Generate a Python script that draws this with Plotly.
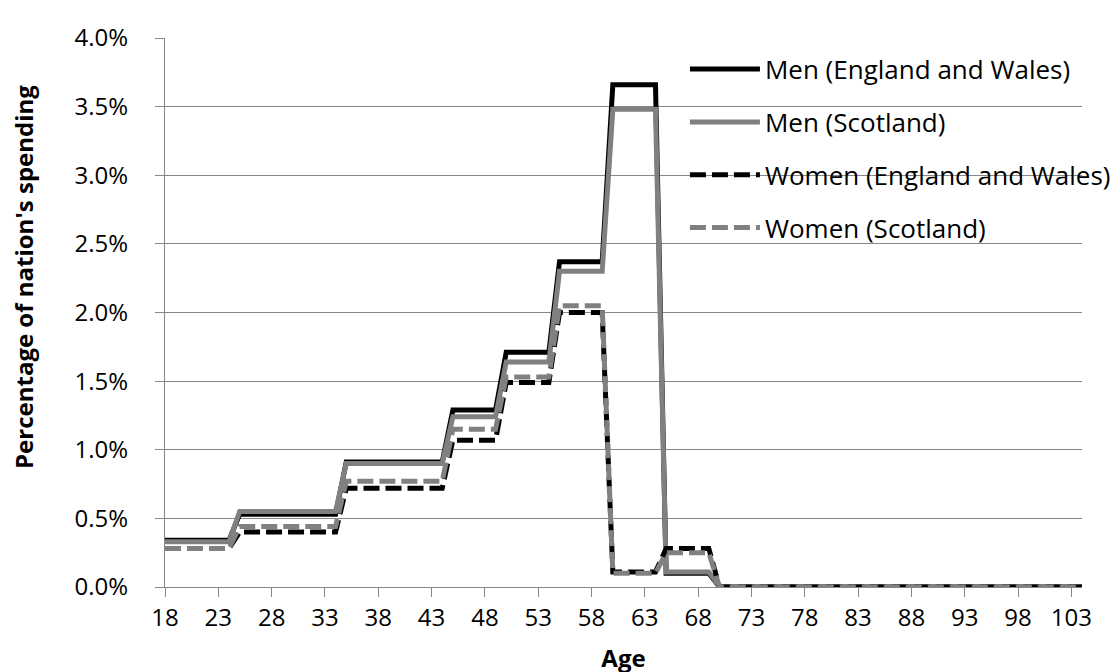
"""
Share of national spending by single year of age, men and women,
England and Wales vs Scotland (Excel-style step chart).
"""

import plotly.graph_objects as go

# Ages 18..104, one value per age (percent of nation's spending)
AGES = list(range(18, 105))

MEN_EW = [
    0.34, 0.34, 0.34, 0.34, 0.34, 0.34, 0.34,                    # 18-24
    0.53, 0.53, 0.53, 0.53, 0.53, 0.53, 0.53, 0.53, 0.53, 0.53,  # 25-34
    0.91, 0.91, 0.91, 0.91, 0.91, 0.91, 0.91, 0.91, 0.91, 0.91,  # 35-44
    1.29, 1.29, 1.29, 1.29, 1.29,                                # 45-49
    1.71, 1.71, 1.71, 1.71, 1.71,                                # 50-54
    2.37, 2.37, 2.37, 2.37, 2.37,                                # 55-59
    3.66, 3.66, 3.66, 3.66, 3.66,                                # 60-64
    0.10, 0.10, 0.10, 0.10, 0.10,                                # 65-69
    0, 0, 0, 0, 0, 0, 0, 0, 0, 0, 0, 0, 0, 0, 0, 0, 0,           # 70-86
    0, 0, 0, 0, 0, 0, 0, 0, 0, 0, 0, 0, 0, 0, 0, 0, 0, 0,        # 87-104
]

MEN_SCOT = [
    0.33, 0.33, 0.33, 0.33, 0.33, 0.33, 0.33,
    0.55, 0.55, 0.55, 0.55, 0.55, 0.55, 0.55, 0.55, 0.55, 0.55,
    0.90, 0.90, 0.90, 0.90, 0.90, 0.90, 0.90, 0.90, 0.90, 0.90,
    1.24, 1.24, 1.24, 1.24, 1.24,
    1.64, 1.64, 1.64, 1.64, 1.64,
    2.30, 2.30, 2.30, 2.30, 2.30,
    3.48, 3.48, 3.48, 3.48, 3.48,
    0.11, 0.11, 0.11, 0.11, 0.11,
    0, 0, 0, 0, 0, 0, 0, 0, 0, 0, 0, 0, 0, 0, 0, 0, 0,
    0, 0, 0, 0, 0, 0, 0, 0, 0, 0, 0, 0, 0, 0, 0, 0, 0, 0,
]

WOMEN_EW = [
    0.28, 0.28, 0.28, 0.28, 0.28, 0.28, 0.28,
    0.40, 0.40, 0.40, 0.40, 0.40, 0.40, 0.40, 0.40, 0.40, 0.40,
    0.72, 0.72, 0.72, 0.72, 0.72, 0.72, 0.72, 0.72, 0.72, 0.72,
    1.07, 1.07, 1.07, 1.07, 1.07,
    1.49, 1.49, 1.49, 1.49, 1.49,
    2.00, 2.00, 2.00, 2.00, 2.00,
    0.11, 0.11, 0.11, 0.11, 0.11,
    0.28, 0.28, 0.28, 0.28, 0.28,
    0, 0, 0, 0, 0, 0, 0, 0, 0, 0, 0, 0, 0, 0, 0, 0, 0,
    0, 0, 0, 0, 0, 0, 0, 0, 0, 0, 0, 0, 0, 0, 0, 0, 0, 0,
]

WOMEN_SCOT = [
    0.28, 0.28, 0.28, 0.28, 0.28, 0.28, 0.28,
    0.44, 0.44, 0.44, 0.44, 0.44, 0.44, 0.44, 0.44, 0.44, 0.44,
    0.77, 0.77, 0.77, 0.77, 0.77, 0.77, 0.77, 0.77, 0.77, 0.77,
    1.15, 1.15, 1.15, 1.15, 1.15,
    1.53, 1.53, 1.53, 1.53, 1.53,
    2.05, 2.05, 2.05, 2.05, 2.05,
    0.10, 0.10, 0.10, 0.10, 0.10,
    0.25, 0.25, 0.25, 0.25, 0.25,
    0, 0, 0, 0, 0, 0, 0, 0, 0, 0, 0, 0, 0, 0, 0, 0, 0,
    0, 0, 0, 0, 0, 0, 0, 0, 0, 0, 0, 0, 0, 0, 0, 0, 0, 0,
]

X_TICKS = list(range(18, 104, 5))
Y_TICKS = [0, 0.005, 0.01, 0.015, 0.02, 0.025, 0.03, 0.035, 0.04]

SERIES = [
    ('Men (England and Wales)', MEN_EW, '#000000', 'solid'),
    ('Men (Scotland)', MEN_SCOT, '#808080', 'solid'),
    ('Women (England and Wales)', WOMEN_EW, '#000000', '16px,6px'),
    ('Women (Scotland)', WOMEN_SCOT, '#808080', '16px,6px'),
]

FONT = 'Open Sans'
GRID = '#878787'

fig = go.Figure()

for i, (name, vals, color, dash) in enumerate(SERIES):
    fig.add_trace(go.Scatter(
        x=AGES,
        y=[v / 100 for v in vals],
        mode='lines',
        name=name,
        legendgroup=f'g{i}',
        line=dict(color=color, width=5, dash=dash),
    ))

# y-axis title as a rotated annotation (sits a bit above the plot centre)
fig.add_annotation(
    text="<b>Percentage of nation's spending</b>",
    xref='paper', yref='paper',
    x=-0.1536, y=0.565,
    xanchor='center', yanchor='middle',
    textangle=-90,
    showarrow=False,
    font=dict(size=24, color='black'),
)

fig.update_layout(
    width=1120,
    height=672,
    paper_bgcolor='white',
    plot_bgcolor='white',
    font=dict(family=FONT, size=24, color='black'),
    margin=dict(l=157, r=39, t=23, b=93),
    xaxis=dict(
        range=[18, 104],
        tickvals=X_TICKS,
        showgrid=False,
        zeroline=False,
        showline=True,
        linecolor=GRID,
        linewidth=1,
        ticks='outside',
        ticklen=9,
        tickcolor=GRID,
        tickfont=dict(size=24),
        title=dict(text='<b>Age</b>', font=dict(size=24), standoff=18),
    ),
    yaxis=dict(
        range=[0, 0.04],
        tickvals=Y_TICKS,
        tickformat='.1%',
        showgrid=True,
        gridcolor=GRID,
        gridwidth=1,
        zeroline=False,
        showline=True,
        linecolor=GRID,
        linewidth=1,
        ticks='outside',
        ticklen=9,
        tickcolor=GRID,
        tickfont=dict(size=24),
        ticklabelstandoff=22,
    ),
    showlegend=True,
    legend=dict(
        x=0.567,
        y=0.986,
        xanchor='left',
        yanchor='top',
        bgcolor='rgba(0,0,0,0)',
        font=dict(size=26),
        itemwidth=70,
        tracegroupgap=16,
    ),
)

fig.write_html("out.html")
